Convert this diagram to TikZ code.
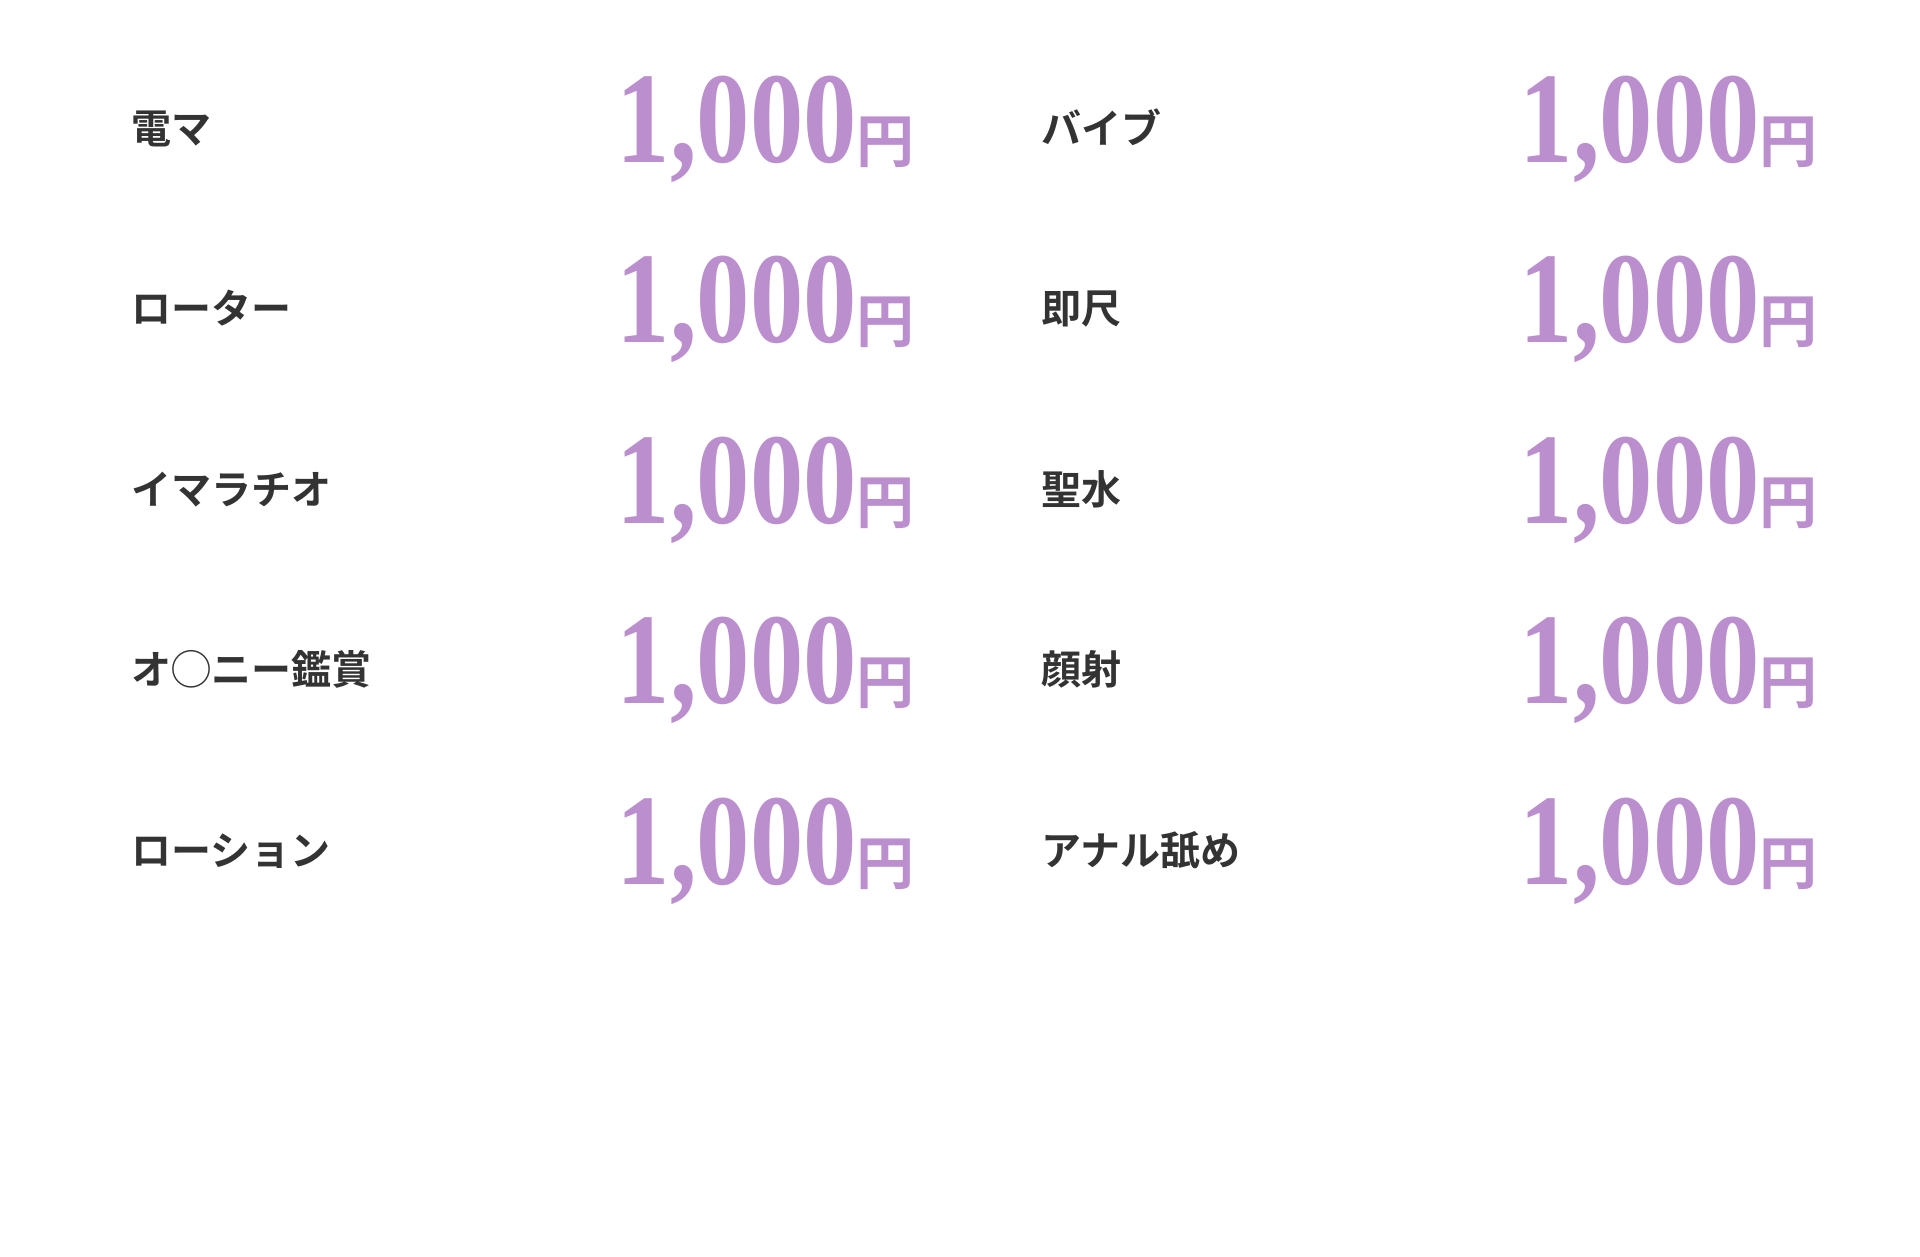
\documentclass[tikz,border=0pt]{standalone}
\usepackage{fontspec}
\newfontfamily\cjk{Noto Sans CJK JP}[BoldFont={* Bold}]
\newfontfamily\numfont{Liberation Serif}
\definecolor{price}{HTML}{BB8FCE}
\definecolor{lab}{HTML}{333333}
\tikzset{
 item/.style={anchor=base west,inner sep=0,text=lab,font=\cjk\bfseries\fontsize{40}{40}\selectfont},
 cost/.style={anchor=base east,inner sep=0,text=price}
}
\newcommand{\yen}{\scalebox{0.82}[1]{\numfont\bfseries\fontsize{130}{130}\selectfont 1,000}{\cjk\bfseries\fontsize{58}{58}\selectfont 円}}
\begin{document}
\begin{tikzpicture}[x=1pt,y=1pt]
\useasboundingbox[fill=white] (0,0) rectangle (1920,-1256);
\foreach \i/\a/\b in {0/電マ/バイブ,1/ローター/即尺,2/イマラチオ/聖水,3/オ◯ニー鑑賞/顔射,4/ローション/アナル舐め}{
 \node[item] (l\i) at (131,-143-180.6*\i) {\a};
 \node[cost] (p\i) at (915,-162-180.6*\i) {\yen};
 \node[item] (r\i) at (1041,-143-180.6*\i) {\b};
 \node[cost] (q\i) at (1818,-162-180.6*\i) {\yen};
}
\end{tikzpicture}
\end{document}
